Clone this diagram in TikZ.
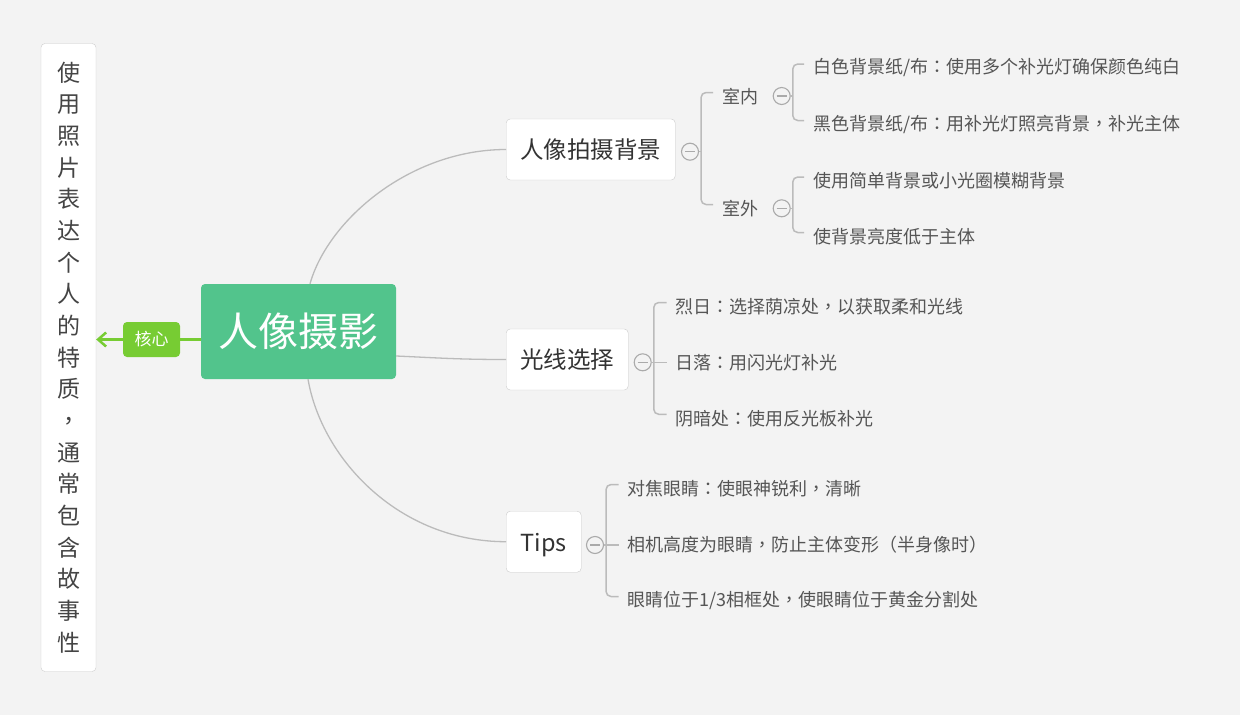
\documentclass[tikz,border=0pt]{standalone}
\usepackage{fontspec}
\setmainfont{Noto Sans CJK SC}
\newfontfamily\tcfont{Noto Sans CJK TC}
\newcommand\zp[1]{{\tcfont #1}}
\usetikzlibrary{arrows.meta}
\definecolor{bgc}{HTML}{F3F3F3}
\definecolor{ctrg}{HTML}{52C48C}
\definecolor{hxg}{HTML}{77CC33}
\definecolor{linec}{HTML}{BBBBBB}
\definecolor{boxc}{HTML}{CCCCCC}
\definecolor{leaft}{HTML}{555555}
\definecolor{brt}{HTML}{333333}
\definecolor{lbt}{HTML}{444444}
\definecolor{collc}{HTML}{AAAAAA}
\begin{document}
\begin{tikzpicture}[x=1pt,y=-1pt,
  ctrnode/.style={fill=ctrg, rounded corners=4pt, minimum width=195pt, minimum height=95pt, text=white, font=\fontsize{40}{44}\selectfont, inner sep=0pt},
  hxnode/.style={fill=hxg, rounded corners=4pt, minimum width=57pt, minimum height=35pt, text=white, font=\fontsize{17}{19}\selectfont, inner sep=0pt},
  lbox/.style={draw=boxc, fill=white, rounded corners=4pt, minimum width=55pt, minimum height=628pt, text=lbt, align=center, font=\fontsize{23}{31.67}\selectfont, inner sep=0pt},
  brnode/.style={draw=boxc, fill=white, rounded corners=4pt, minimum height=61pt, text=brt, font=\fontsize{23.5}{26}\selectfont, inner sep=0pt, anchor=west},
  subnode/.style={anchor=west, inner sep=0pt, text=leaft, font=\fontsize{18}{20}\selectfont},
  coll/.style={circle, draw=collc, line width=1.1pt, minimum size=17pt, inner sep=0pt,
    path picture={\draw[collc, line width=1.1pt] ([xshift=-5pt]path picture bounding box.center) -- ([xshift=5pt]path picture bounding box.center);}},
  conn/.style={draw=linec, line width=1.3pt},
  brk/.style={draw=linec, line width=1.5pt, rounded corners=5pt},
  gline/.style={draw=hxg, line width=2.5pt}
]
\fill[bgc] (0,0) rectangle (1240,715);
\useasboundingbox (0,0) rectangle (1240,715);

% left box
\node[lbox] (lb) at (68.5,357.5) {使\\用\\照\\片\\表\\达\\个\\人\\的\\特\\质\\\zp{，}\\通\\常\\包\\含\\故\\事\\性};

% center and label
\node[ctrnode] (ctr) at (298.5,331.5) {人像摄影};
\node[hxnode] (hx) at (151.5,339.5) {核心};
\draw[gline] (ctr.west |- hx.east) -- (hx.east);
\draw[gline,-{Straight Barb[length=8pt,width=14pt]}] (hx.west) -- (lb.east |- hx.west);

% main branches
\node[brnode, minimum width=169pt] (b1) at (506,149.5) {人像拍摄背景};
\node[brnode, minimum width=122pt] (b2) at (506,359.5) {光线选择};
\node[brnode, minimum width=75pt, text height=22pt, text depth=2pt] (b3) at (506,541.7) {Tips};

\draw[conn] ([xshift=11.5pt]ctr.north) .. controls (328,220) and (410,149.5) .. (b1.west);
\draw[conn] ([yshift=-24.5pt]ctr.east) .. controls (440,358) and (460,359.5) .. (b2.west);
\draw[conn] ([xshift=9.5pt]ctr.south) .. controls (322,460) and (400,541.7) .. (b3.west);

% branch 1
\node[subnode] (s1) at (722,96.5) {室内};
\node[subnode] (s2) at (722,208.5) {室外};
\node[subnode] (l1) at (813,68) {白色背景纸/布\zp{：}使用多个补光灯确保颜色纯白};
\node[subnode] (l2) at (813,124.5) {黑色背景纸/布\zp{：}用补光灯照亮背景\zp{，}补光主体};
\node[subnode] (l3) at (813,181) {使用简单背景或小光圈模糊背景};
\node[subnode] (l4) at (813,236.5) {使背景亮度低于主体};
\node[coll] (c1) at (690,151.7) {};
\node[coll] (c11) at (781.7,96) {};
\node[coll] (c12) at (781.7,208.3) {};
\draw[brk] ([xshift=-9pt,yshift=4pt]s1.west) -| ([xshift=2pt]c1.east) |- ([xshift=-9pt,yshift=4pt]s2.west);
\draw[brk] (c1.east) -- ([xshift=2pt]c1.east);
\draw[brk] ([xshift=-9pt,yshift=4pt]l1.west) -| ([xshift=2pt]c11.east) |- ([xshift=-9pt,yshift=4pt]l2.west);
\draw[brk] (c11.east) -- ([xshift=2pt]c11.east);
\draw[brk] ([xshift=-9pt,yshift=4pt]l3.west) -| ([xshift=2pt]c12.east) |- ([xshift=-9pt,yshift=4pt]l4.west);
\draw[brk] (c12.east) -- ([xshift=2pt]c12.east);

% branch 2
\node[subnode] (m1) at (675.5,306.5) {烈日\zp{：}选择荫凉处\zp{，}以获取柔和光线};
\node[subnode] (m2) at (675.5,362.3) {日落\zp{：}用闪光灯补光};
\node[subnode] (m3) at (675.5,418.3) {阴暗处\zp{：}使用反光板补光};
\node[coll] (c2) at (642.7,362.3) {};
\draw[brk] ([xshift=-9pt,yshift=4pt]m1.west) -| ([xshift=2pt]c2.east) |- ([xshift=-9pt,yshift=4pt]m3.west);
\draw[brk] (c2.east) -- ([xshift=-9pt]m2.west);

% branch 3
\node[subnode] (t1) at (627.5,488.5) {对焦眼睛\zp{：}使眼神锐利\zp{，}清晰};
\node[subnode] (t2) at (627.5,545) {相机高度为眼睛\zp{，}防止主体变形\zp{（}半身像时\zp{）}};
\node[subnode] (t3) at (627.5,600.5) {眼睛位于1/3相框处\zp{，}使眼睛位于黄金分割处};
\node[coll] (c3) at (595,545) {};
\draw[brk] ([xshift=-9pt,yshift=4pt]t1.west) -| ([xshift=2pt]c3.east) |- ([xshift=-9pt,yshift=4pt]t3.west);
\draw[brk] (c3.east) -- ([xshift=-9pt]t2.west);
\end{tikzpicture}
\end{document}
